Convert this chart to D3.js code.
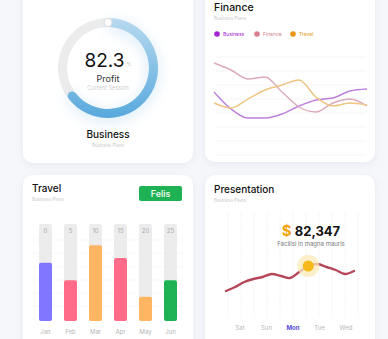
<!DOCTYPE html>
<html><head><meta charset="utf-8">
<script src="https://cdn.jsdelivr.net/npm/d3@7"></script>
<style>
html,body{margin:0;padding:0;background:#f6f7fb;}
svg{display:block;font-family:Inter,"Open Sans",sans-serif;}
</style></head>
<body><svg id="c" width="388" height="339"></svg>
<script>
// ---- data ----
const profitValue = 82.3;
const profitArcPct = 66;              // portion of ring filled
const financeSeries = ["Business", "Finance", "Travel"];
const financeColors = ["#a323d3", "#d7808f", "#ea9412"];
const financeLineColors = ["#bd7fdc", "#dcaabd", "#efc47f"];
const businessLine = [65, 48, 39, 39, 43, 51, 57, 59, 66, 68];
const financeLine  = [94, 87, 78, 80, 65, 50, 45, 54, 58, 51];
const travelLine   = [54, 49, 58, 67, 72, 77, 60, 51, 54, 52];
const months = ["Jan", "Feb", "Mar", "Apr", "May", "Jun"];
const monthValues = [60, 42, 78, 65, 25, 42];
const monthTopLabels = ["0", "5", "10", "15", "20", "25"];
const barColors = ["#8076ff", "#ff6b88", "#ffb562", "#ff6b88", "#ffb562", "#1fb255"];
const days = ["Sat", "Sun", "Mon", "Tue", "Wed"];
const activeDay = "Mon";
const presValues = [29, 33, 38, 41, 43, 46, 44, 42, 48, 54, 56, 53, 50, 46, 49];
const presMarkerIndex = 9;
const presAmount = "82,347";

const svg = d3.select("#c");
const defs = svg.append("defs");

const f = defs.append("filter").attr("id","cardShadow").attr("x","-20%").attr("y","-20%").attr("width","140%").attr("height","140%");
f.append("feDropShadow").attr("dx",0).attr("dy",2).attr("stdDeviation",4).attr("flood-color","#c9cde0").attr("flood-opacity",0.35);
const g2 = defs.append("filter").attr("id","glow").attr("x","-50%").attr("y","-50%").attr("width","200%").attr("height","200%");
g2.append("feGaussianBlur").attr("stdDeviation",7);

const grad = defs.append("linearGradient").attr("id","ringGrad").attr("x1",0).attr("y1",0).attr("x2",0).attr("y2",1);
grad.append("stop").attr("offset","0%").attr("stop-color","#b7d9ef");
grad.append("stop").attr("offset","100%").attr("stop-color","#58a9dd");

// cards
const cards = [[23,-20,170,183],[205,-20,170,182],[23,175,170,190],[205,175,170,190]];
svg.selectAll("rect.card").data(cards).join("rect").attr("class","card")
  .attr("x",d=>d[0]).attr("y",d=>d[1]).attr("width",d=>d[2]).attr("height",d=>d[3])
  .attr("rx",10).attr("fill","#fff").attr("filter","url(#cardShadow)");

// ---- Card 1: donut ----
const cx = 108, cy = 68, rOut = 50, rIn = 41;
const donut = svg.append("g").attr("transform",`translate(${cx},${cy})`);
const arcGen = d3.arc().innerRadius(rIn).outerRadius(rOut).cornerRadius(4.5);
const endAngle = profitArcPct/100*2*Math.PI;
donut.append("path").attr("d", d3.arc().innerRadius(rIn).outerRadius(rOut)({startAngle:0,endAngle:2*Math.PI})).attr("fill","#ececec");
donut.append("path").attr("d", arcGen({startAngle:0,endAngle})).attr("fill","#8cc4ea").attr("opacity",0.4).attr("filter","url(#glow)").attr("transform","translate(0,3)");
donut.append("path").attr("d", arcGen({startAngle:0,endAngle})).attr("fill","url(#ringGrad)");
donut.append("circle").attr("cx",0).attr("cy",-(rIn+rOut)/2).attr("r",4).attr("fill","#fff").attr("stroke","#d9dde3").attr("stroke-width",1.2);
const t1 = donut.append("text").attr("text-anchor","middle").attr("y",-1).attr("font-size",19).attr("fill","#111");
t1.append("tspan").text(profitValue);
t1.append("tspan").text("%").attr("font-size",5).attr("fill","#bbb").attr("dx",2).attr("dy",-1);
donut.append("text").attr("text-anchor","middle").attr("y",14).attr("font-size",9).attr("fill","#333").text("Profit");
donut.append("text").attr("text-anchor","middle").attr("y",22).attr("font-size",5.5).attr("fill","#d0d0d0").text("Current Session");
svg.append("text").attr("x",108).attr("y",138).attr("text-anchor","middle").attr("font-size",10).attr("font-weight",500).attr("fill","#111").text("Business");
svg.append("text").attr("x",108).attr("y",147).attr("text-anchor","middle").attr("font-size",4.5).attr("fill","#c8c8c8").text("Business Plans");

// ---- Card 2: Finance lines ----
svg.append("text").attr("x",214).attr("y",11).attr("font-size",10.5).attr("font-weight",500).attr("fill","#111").text("Finance");
svg.append("text").attr("x",214).attr("y",20).attr("font-size",4.5).attr("fill","#c8c8c8").text("Business Plans");
const legX = [217, 257, 293];
const leg = svg.selectAll("g.leg").data(financeSeries).join("g").attr("class","leg")
  .attr("transform",(d,i)=>`translate(${legX[i]},34)`);
leg.append("circle").attr("r",2.8).attr("fill",(d,i)=>financeColors[i]);
leg.append("text").attr("x",6).attr("y",1.8).attr("font-size",5).attr("fill",(d,i)=>financeColors[i]).text(d=>d);

const fx = d3.scaleLinear().domain([0, businessLine.length-1]).range([214, 367]);
const fy = d3.scaleLinear().domain([0, 100]).range([157, 57]);
svg.append("g").selectAll("line").data([57,71,85,99,113,127,141,155]).join("line")
  .attr("x1",216).attr("x2",366).attr("y1",d=>d).attr("y2",d=>d).attr("stroke","#f2f2f4").attr("stroke-width",0.8);
const fLine = d3.line().x((d,i)=>fx(i)).y(d=>fy(d)).curve(d3.curveMonotoneX);
[businessLine, financeLine, travelLine].forEach((s,i)=>{
  svg.append("path").attr("d", fLine(s)).attr("fill","none").attr("stroke",financeLineColors[i]).attr("stroke-width",1.4);
});

// ---- Card 3: Travel bars ----
svg.append("text").attr("x",32).attr("y",192).attr("font-size",10).attr("font-weight",500).attr("fill","#111").text("Travel");
svg.append("text").attr("x",32).attr("y",201).attr("font-size",4.5).attr("fill","#c8c8c8").text("Business Plans");
svg.append("rect").attr("x",139).attr("y",186).attr("width",43).attr("height",15).attr("rx",2).attr("fill","#1fb255");
svg.append("text").attr("x",160.5).attr("y",196.8).attr("text-anchor","middle").attr("font-size",9).attr("font-weight",500).attr("fill","#fff").text("Felis");

const bx = d3.scaleBand().domain(months).range([33, 183]).paddingInner(0.48).paddingOuter(0.24);
const by = d3.scaleLinear().domain([0, 100]).range([321, 224]);
svg.append("g").selectAll("line").data([240,253,267,280,293,306]).join("line")
  .attr("x1",33).attr("x2",183).attr("y1",d=>d).attr("y2",d=>d).attr("stroke","#f5f5f7").attr("stroke-width",0.8);
svg.append("g").selectAll("rect").data(months).join("rect")
  .attr("x",d=>bx(d)).attr("y",by(100)).attr("width",bx.bandwidth()).attr("height",by(0)-by(100)).attr("rx",2).attr("fill","#ececec");
svg.append("g").selectAll("rect").data(monthValues).join("rect")
  .attr("x",(d,i)=>bx(months[i])).attr("y",d=>by(d)).attr("width",bx.bandwidth()).attr("height",d=>by(0)-by(d)).attr("rx",2).attr("fill",(d,i)=>barColors[i]);
svg.append("g").selectAll("text").data(monthTopLabels).join("text")
  .attr("x",(d,i)=>bx(months[i])+bx.bandwidth()/2).attr("y",233).attr("text-anchor","middle").attr("font-size",6).attr("fill","#aaa").text(d=>d);
const xAxis3 = svg.append("g").attr("transform","translate(0,321)").call(d3.axisBottom(bx).tickSize(0).tickPadding(9));
xAxis3.select(".domain").remove();
xAxis3.selectAll("text").attr("font-size",6).attr("fill","#b5b5b5").attr("font-family","Inter, sans-serif");

// ---- Card 4: Presentation ----
svg.append("text").attr("x",214).attr("y",193).attr("font-size",10).attr("font-weight",500).attr("fill","#111").text("Presentation");
svg.append("text").attr("x",214).attr("y",202).attr("font-size",4.5).attr("fill","#c8c8c8").text("Business Plans");
const px = d3.scaleLinear().domain([0, presValues.length-1]).range([226, 354]);
const py = d3.scaleLinear().domain([0, 100]).range([320, 220]);
svg.append("g").selectAll("line").data(d3.range(0,11)).join("line")
  .attr("x1",d=>228+d*13).attr("x2",d=>228+d*13).attr("y1",212).attr("y2",318)
  .attr("stroke","#f1f1f3").attr("stroke-width",0.8).attr("stroke-dasharray","2,1");
const amt = svg.append("text").attr("x",311).attr("y",236).attr("text-anchor","middle").attr("font-weight",700);
amt.append("tspan").text("$").attr("fill","#f0a40b").attr("font-size",15);
amt.append("tspan").text(" "+presAmount).attr("fill","#111").attr("font-size",13);
svg.append("text").attr("x",311).attr("y",246).attr("text-anchor","middle").attr("font-size",6).attr("fill","#777").text("Facilisi in magna mauris");
const pLine = d3.line().x((d,i)=>px(i)).y(d=>py(d)).curve(d3.curveCatmullRom);
svg.append("path").attr("d", pLine(presValues)).attr("fill","none").attr("stroke","#b64659").attr("stroke-width",2.4).attr("stroke-linecap","round");
const mx = px(presMarkerIndex), my = py(presValues[presMarkerIndex]);
svg.append("circle").attr("cx",mx).attr("cy",my).attr("r",11).attr("fill","#fbe9b8").attr("opacity",0.75);
svg.append("circle").attr("cx",mx).attr("cy",my).attr("r",5.5).attr("fill","#f7b91a");
const dx = d3.scalePoint().domain(days).range([240, 346]);
svg.append("g").selectAll("text").data(days).join("text")
  .attr("x",d=>dx(d)).attr("y",330).attr("text-anchor","middle").attr("font-size",6)
  .attr("font-weight",d=>d===activeDay?700:400)
  .attr("fill",d=>d===activeDay?"#5548d9":"#b8b8b8").text(d=>d);
</script></body></html>
